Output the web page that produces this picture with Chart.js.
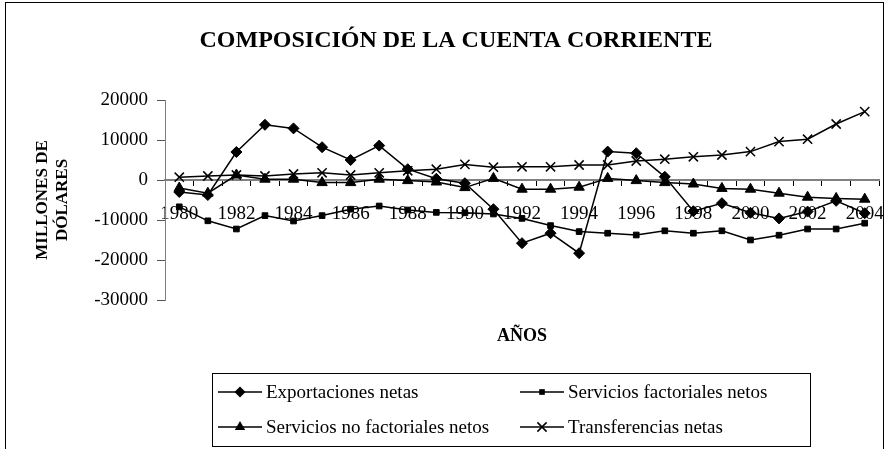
<!DOCTYPE html>
<html lang="es">
<head>
<meta charset="UTF-8">
<title>Composición de la cuenta corriente</title>
<script src="https://cdn.jsdelivr.net/npm/chart.js"></script>
<style>
  html, body { margin: 0; padding: 0; background: #fff; }
  #grafico { display: block; }
</style>
</head>
<body>
<canvas id="grafico" width="887" height="449"></canvas>
<script>
// Datos (millones de dólares)
const anios = ['1980','1981','1982','1983','1984','1985','1986','1987','1988','1989','1990','1991','1992',
               '1993','1994','1995','1996','1997','1998','1999','2000','2001','2002','2003','2004'];
const exportacionesNetas = [-3000, -3750, 7000, 13800, 12900, 8200, 5000, 8600, 2700, 300, -800, -7300, -15800,
                            -13300, -18300, 7100, 6700, 800, -7800, -5800, -8200, -9600, -7900, -5200, -8300];
const serviciosFactoriales = [-6700, -10200, -12250, -8900, -10250, -8900, -7300, -6500, -7500, -8100, -8200, -8500, -9600,
                              -11400, -12900, -13300, -13750, -12700, -13300, -12700, -15000, -13800, -12250, -12250, -10800];
const serviciosNoFactoriales = [-2000, -3300, 1250, 200, 200, -650, -650, 200, -150, -500, -1900, 400, -2300,
                                -2300, -1800, 400, -150, -650, -1000, -2100, -2300, -3300, -4300, -4600, -4800];
const transferenciasNetas = [700, 1000, 1250, 1000, 1500, 1800, 1250, 1800, 2300, 2700, 3900, 3200, 3300,
                             3300, 3750, 3750, 4750, 5200, 5800, 6250, 7100, 9600, 10200, 14000, 17100];
const ticksY = [20000, 10000, 0, -10000, -20000, -30000];

const nombres = ['Exportaciones netas', 'Servicios factoriales netos', 'Servicios no factoriales netos', 'Transferencias netas'];
const marcadores = ['rectRot', 'rect', 'triangle', 'crossRot'];
const radios = [5.5, 4, 6, 6.5];

const serif = '"Liberation Serif", "Times New Roman", serif';

function serie(i, datos) {
    return {
        label: nombres[i],
        data: datos,
        borderColor: '#000',
        backgroundColor: '#000',
        borderWidth: 1.5,
        pointStyle: marcadores[i],
        pointRadius: radios[i],
        pointBorderWidth: marcadores[i] === 'crossRot' ? 1.5 : 1,
        pointBackgroundColor: '#000',
        pointBorderColor: '#000',
        tension: 0,
        fill: false
    };
}

// marcador dibujado a mano para la leyenda
function marcador(ctx, tipo, x, y, r) {
    ctx.beginPath();
    if (tipo === 'rectRot') {
        ctx.moveTo(x - r, y); ctx.lineTo(x, y - r); ctx.lineTo(x + r, y); ctx.lineTo(x, y + r);
        ctx.closePath(); ctx.fill();
    } else if (tipo === 'rect') {
        const s = r * Math.SQRT1_2;
        ctx.fillRect(x - s, y - s, 2 * s, 2 * s);
    } else if (tipo === 'triangle') {
        ctx.moveTo(x, y - r);
        ctx.lineTo(x + r * 0.866, y + r * 0.5);
        ctx.lineTo(x - r * 0.866, y + r * 0.5);
        ctx.closePath(); ctx.fill();
    } else {
        const o = r * Math.SQRT1_2;
        ctx.moveTo(x - o, y - o); ctx.lineTo(x + o, y + o);
        ctx.moveTo(x + o, y - o); ctx.lineTo(x - o, y + o);
        ctx.stroke();
    }
}

const decoracion = {
    id: 'decoracion',
    beforeDraw(chart) {
        const ctx = chart.ctx;
        ctx.save();
        ctx.fillStyle = '#fff';
        ctx.fillRect(0, 0, chart.width, chart.height);
        ctx.restore();
    },
    afterDraw(chart) {
        const ctx = chart.ctx;
        const area = chart.chartArea;
        ctx.save();
        ctx.fillStyle = '#000';
        ctx.strokeStyle = '#000';

        // marco exterior
        ctx.lineWidth = 1;
        ctx.strokeRect(5.5, 2.5, 878, 460);

        // título
        ctx.font = 'bold 24px ' + serif;
        ctx.textAlign = 'center';
        ctx.textBaseline = 'alphabetic';
        ctx.fillText('COMPOSICIÓN DE LA CUENTA CORRIENTE', 456, 47);

        // título eje y
        ctx.save();
        ctx.translate(53, (area.top + area.bottom) / 2);
        ctx.rotate(-Math.PI / 2);
        ctx.font = 'bold 17px ' + serif;
        ctx.textBaseline = 'middle';
        ctx.fillText('MILLONES DE', 0, -10);
        ctx.fillText('DÓLARES', 0, 10);
        ctx.restore();

        // título eje x
        ctx.font = 'bold 18px ' + serif;
        ctx.textBaseline = 'middle';
        ctx.fillText('AÑOS', (area.left + area.right) / 2, 336);

        // leyenda
        ctx.lineWidth = 1;
        ctx.strokeRect(212.5, 373.5, 598, 73);
        const filas = [392, 427];
        const columnas = [218, 520];
        ctx.font = '19px ' + serif;
        ctx.textAlign = 'left';
        nombres.forEach((n, i) => {
            const x = columnas[i % 2];
            const y = filas[Math.floor(i / 2)];
            ctx.lineWidth = 1.5;
            ctx.beginPath();
            ctx.moveTo(x, y); ctx.lineTo(x + 44, y);
            ctx.stroke();
            marcador(ctx, marcadores[i], x + 22, y, radios[i]);
            ctx.fillText(n, x + 48, y + 1);
        });
        ctx.restore();
    }
};

const ctx = document.getElementById('grafico').getContext('2d');
new Chart(ctx, {
    type: 'line',
    data: {
        labels: anios,
        datasets: [
            serie(0, exportacionesNetas),
            serie(1, serviciosFactoriales),
            serie(2, serviciosNoFactoriales),
            serie(3, transferenciasNetas)
        ]
    },
    options: {
        responsive: false,
        animation: false,
        layout: { padding: { left: 85, right: 4, top: 100, bottom: 149 } },
        plugins: {
            legend: { display: false },
            tooltip: { enabled: false },
            title: { display: false }
        },
        scales: {
            x: {
                type: 'category',
                position: { y: 0 },
                offset: true,
                grid: {
                    offset: true,
                    drawOnChartArea: false,
                    drawTicks: true,
                    tickLength: 5,
                    color: '#000'
                },
                border: { display: true, color: '#808080', width: 2 },
                ticks: {
                    autoSkip: false,
                    maxRotation: 0,
                    padding: 18,
                    color: '#000',
                    font: { family: serif, size: 19 },
                    callback: (v, i) => (i % 2 === 0 ? anios[i] : '')
                },
                afterFit(s) { s.paddingLeft = 0; s.paddingRight = 0; }
            },
            y: {
                min: -30000,
                max: 20000,
                afterBuildTicks(s) { s.ticks = ticksY.map(v => ({ value: v })); },
                afterFit(s) { s.width = 80; },
                grid: {
                    drawOnChartArea: false,
                    drawTicks: true,
                    tickLength: 8,
                    color: '#555'
                },
                border: { display: true, color: '#808080', width: 1 },
                ticks: {
                    padding: 9,
                    color: '#000',
                    font: { family: serif, size: 19 },
                    callback: v => String(v)
                }
            }
        }
    },
    plugins: [decoracion]
});
</script>
</body>
</html>
